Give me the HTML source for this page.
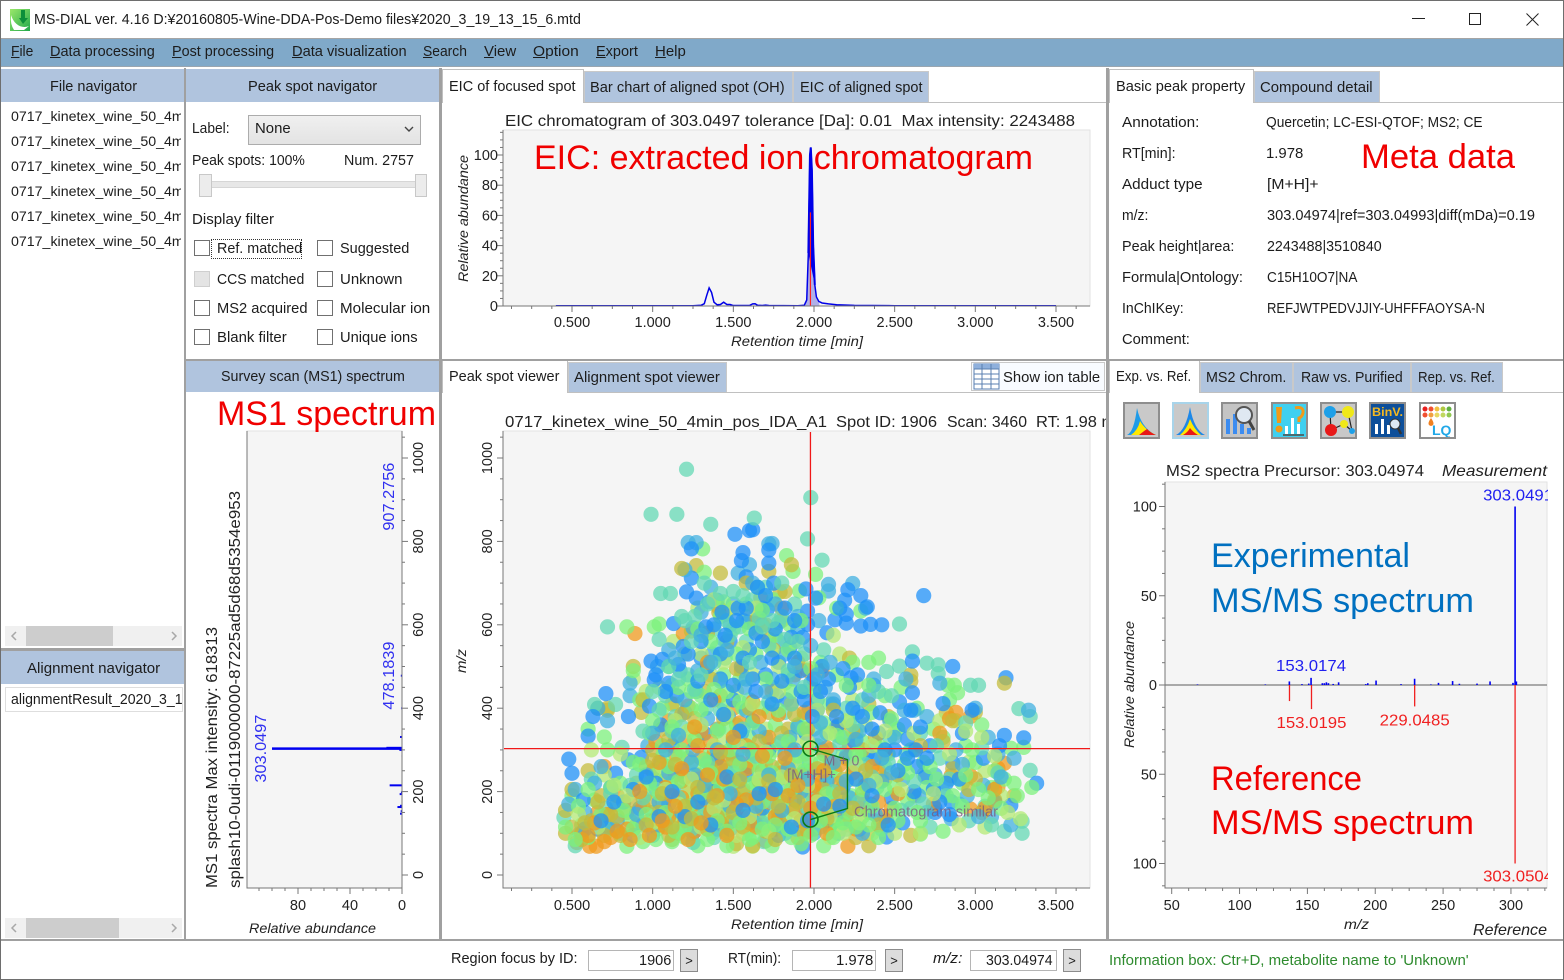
<!DOCTYPE html>
<html lang="en">
<head>
<meta charset="utf-8">
<title>MS-DIAL ver. 4.16</title>
<style>
html,body{margin:0;padding:0;background:#fff;}
#app{position:relative;width:1564px;height:980px;overflow:hidden;background:#fff;font-family:"Liberation Sans","Noto Sans CJK JP",sans-serif;font-size:14.5px;color:#1c1c1c;}
.b{position:absolute;box-sizing:border-box;}
.t{position:absolute;white-space:nowrap;line-height:20px;height:20px;margin-top:1px;transform-origin:left center;}
.sp{position:absolute;background:#a0a0a0;}
.hdr{position:absolute;background:#b0c4de;}
.tab{position:absolute;box-sizing:border-box;background:#b0c4de;border:1px solid #c9c9c9;border-bottom:none;}
.tab.on{background:#fff;border-color:#c0c0c0;}
.cb{position:absolute;box-sizing:border-box;width:16px;height:16px;border:1px solid #707070;background:#fff;}
.inp{position:absolute;box-sizing:border-box;border:1px solid #b5b5b5;background:#fff;height:21px;}
.btn{position:absolute;box-sizing:border-box;border:1px solid #8c8c8c;background:#dcdcdc;width:18px;height:23px;font-size:13px;line-height:22px;text-align:center;}
.ico{position:absolute;box-sizing:border-box;width:37px;height:37px;border:2px solid #8e8e8e;overflow:hidden;}
.ico svg{display:block;width:33px;height:33px;}
.sb{position:absolute;background:#f0f0f0;height:20px;}
.th{position:absolute;background:#cdcdcd;height:20px;top:0;}
#chart{position:absolute;left:0;top:0;width:1564px;height:980px;}
#file-list .t{font-size:14.2px;}
</style>
</head>
<body>
<div id="app">

<div class="b" style="left:0;top:0;width:1564px;height:980px;border:1px solid #6e6e6e;z-index:9;pointer-events:none"></div>

<svg class="b" style="left:10px;top:9px;width:20px;height:22px" viewBox="0 0 20 22">
<defs><linearGradient id="ag" x1="0" y1="0" x2="1" y2="1"><stop offset="0" stop-color="#9be86a"/><stop offset="1" stop-color="#1fa84a"/></linearGradient></defs>
<rect width="20" height="22" fill="url(#ag)"/><path d="M1 6 C4 16 12 20 19 17 L14 21 L4 21 Q0 15 1 6Z" fill="#fff"/><path d="M11 1 L15 1 L15 9 L18 9 L13 15 L9 9 L11 9Z" fill="#0c8f3a"/>
</svg>
<span class="t" style="left:34px;top:9px" data-w="547">MS-DIAL ver. 4.16 D:¥20160805-Wine-DDA-Pos-Demo files¥2020_3_19_13_15_6.mtd</span>
<div class="b" style="left:1412px;top:18px;width:13px;height:1px;background:#222"></div>
<div class="b" style="left:1469px;top:13px;width:12px;height:12px;border:1px solid #222"></div>
<svg class="b" style="left:1526px;top:13px;width:13px;height:13px" viewBox="0 0 13 13"><path d="M0.5 0.5L12.5 12.5M12.5 0.5L0.5 12.5" stroke="#222" stroke-width="1"/></svg>

<div class="b" style="left:1px;top:38px;width:1562px;height:29px;background:#80a9c9;border-top:1px solid #a5a5a5;border-bottom:1px solid #9aa6b0"></div>
<span class="t" style="left:11px;top:41px" data-w="22"><u>F</u>ile</span>
<span class="t" style="left:50px;top:41px" data-w="105"><u>D</u>ata processing</span>
<span class="t" style="left:172px;top:41px" data-w="102"><u>P</u>ost processing</span>
<span class="t" style="left:292px;top:41px" data-w="115"><u>D</u>ata visualization</span>
<span class="t" style="left:423px;top:41px" data-w="44"><u>S</u>earch</span>
<span class="t" style="left:484px;top:41px" data-w="32"><u>V</u>iew</span>
<span class="t" style="left:533px;top:41px" data-w="46"><u>O</u>ption</span>
<span class="t" style="left:596px;top:41px" data-w="42"><u>E</u>xport</span>
<span class="t" style="left:655px;top:41px" data-w="31"><u>H</u>elp</span>

<!-- splitters -->
<div class="sp" style="left:184px;top:68px;width:2px;height:872px"></div>
<div class="sp" style="left:439px;top:68px;width:3px;height:872px"></div>
<div class="sp" style="left:1106px;top:68px;width:3px;height:872px"></div>
<div class="sp" style="left:185px;top:359px;width:1379px;height:2px"></div>
<div class="sp" style="left:0;top:648px;width:185px;height:3px"></div>
<div class="sp" style="left:0;top:939px;width:1564px;height:2px"></div>

<!-- file navigator -->
<div class="hdr" style="left:1px;top:69px;width:183px;height:33px"></div>
<span class="t" style="left:50px;top:76px" data-w="87">File navigator</span>
<div id="file-list" class="b" style="left:1px;top:104px;width:180px;height:150px;overflow:hidden">
<span class="t" style="left:10px;top:2px">0717_kinetex_wine_50_4min_pos_IDA_A1</span>
<span class="t" style="left:10px;top:27px">0717_kinetex_wine_50_4min_pos_IDA_A2</span>
<span class="t" style="left:10px;top:52px">0717_kinetex_wine_50_4min_pos_IDA_A3</span>
<span class="t" style="left:10px;top:77px">0717_kinetex_wine_50_4min_pos_IDA_B1</span>
<span class="t" style="left:10px;top:102px">0717_kinetex_wine_50_4min_pos_IDA_B2</span>
<span class="t" style="left:10px;top:127px">0717_kinetex_wine_50_4min_pos_IDA_B3</span>
</div>
<div class="sb" style="left:5px;top:626px;width:177px"><div class="th" style="left:21px;width:87px"></div>
<svg style="position:absolute;left:5px;top:5px" width="168" height="10"><path d="M6 1L2 5L6 9M162 1L166 5L162 9" fill="none" stroke="#a8a8a8" stroke-width="1.5"/></svg></div>

<div class="hdr" style="left:1px;top:651px;width:183px;height:33px"></div>
<span class="t" style="left:27px;top:658px" data-w="133">Alignment navigator</span>
<div class="b" style="left:5px;top:687px;width:178px;height:25px;border:1px solid #dedede;overflow:hidden">
<span class="t" style="left:5px;top:1px" data-w="172">alignmentResult_2020_3_1</span></div>
<div class="sb" style="left:5px;top:918px;width:177px"><div class="th" style="left:21px;width:93px"></div>
<svg style="position:absolute;left:5px;top:5px" width="168" height="10"><path d="M6 1L2 5L6 9M162 1L166 5L162 9" fill="none" stroke="#a8a8a8" stroke-width="1.5"/></svg></div>

<!-- peak spot navigator -->
<div class="hdr" style="left:186px;top:69px;width:253px;height:33px"></div>
<span class="t" style="left:248px;top:76px" data-w="129">Peak spot navigator</span>
<span class="t" style="left:192px;top:118px" data-w="38">Label:</span>
<div class="b" style="left:248px;top:115px;width:173px;height:30px;border:1px solid #acacac;background:linear-gradient(#f0f0f0,#e3e3e3)"></div>
<span class="t" style="left:255px;top:118px" data-w="36">None</span>
<svg class="b" style="left:404px;top:126px;width:10px;height:7px" viewBox="0 0 10 7"><path d="M1 1L5 5L9 1" fill="none" stroke="#444" stroke-width="1.4"/></svg>
<span class="t" style="left:192px;top:150px" data-w="113">Peak spots: 100%</span>
<span class="t" style="left:344px;top:150px" data-w="70">Num. 2757</span>
<div class="b" style="left:205px;top:181px;width:218px;height:7px;background:#e7e7e7;border:1px solid #d6d6d6"></div>
<div class="b" style="left:199px;top:174px;width:13px;height:23px;background:#ececec;border:1px solid #c8c8c8"></div>
<div class="b" style="left:415px;top:174px;width:12px;height:23px;background:#ececec;border:1px solid #c8c8c8"></div>
<span class="t" style="left:192px;top:209px" data-w="82">Display filter</span>

<div class="cb" style="left:194px;top:240px"></div>
<div class="b" style="left:211px;top:239px;width:91px;height:20px;border:1px dotted #333"></div>
<span class="t" style="left:217px;top:238px" data-w="85">Ref. matched</span>
<div class="cb" style="left:194px;top:271px;background:#e4e4e4;border-color:#cfcfcf"></div>
<span class="t" style="left:217px;top:269px" data-w="87">CCS matched</span>
<div class="cb" style="left:194px;top:300px"></div>
<span class="t" style="left:217px;top:298px" data-w="90">MS2 acquired</span>
<div class="cb" style="left:194px;top:329px"></div>
<span class="t" style="left:217px;top:327px" data-w="70">Blank filter</span>
<div class="cb" style="left:317px;top:240px"></div>
<span class="t" style="left:340px;top:238px" data-w="69">Suggested</span>
<div class="cb" style="left:317px;top:271px"></div>
<span class="t" style="left:340px;top:269px" data-w="62">Unknown</span>
<div class="cb" style="left:317px;top:300px"></div>
<span class="t" style="left:340px;top:298px" data-w="90">Molecular ion</span>
<div class="cb" style="left:317px;top:329px"></div>
<span class="t" style="left:340px;top:327px" data-w="78">Unique ions</span>

<!-- top center tabs -->
<div class="b" style="left:442px;top:102px;width:664px;height:1px;background:#c0c0c0"></div>
<div class="tab on" style="left:442px;top:69px;width:142px;height:34px"></div>
<span class="t" style="left:449px;top:76px" data-w="127">EIC of focused spot</span>
<div class="tab" style="left:584px;top:71px;width:209px;height:31px"></div>
<span class="t" style="left:590px;top:77px" data-w="195">Bar chart of aligned spot (OH)</span>
<div class="tab" style="left:793px;top:71px;width:136px;height:31px"></div>
<span class="t" style="left:800px;top:77px" data-w="123">EIC of aligned spot</span>

<!-- property panel -->
<div class="b" style="left:1109px;top:102px;width:455px;height:1px;background:#c0c0c0"></div>
<div class="tab on" style="left:1109px;top:69px;width:145px;height:34px"></div>
<span class="t" style="left:1116px;top:76px" data-w="129">Basic peak property</span>
<div class="tab" style="left:1254px;top:71px;width:126px;height:31px"></div>
<span class="t" style="left:1260px;top:77px" data-w="113">Compound detail</span>

<span class="t" style="left:1122px;top:112px" data-w="77">Annotation:</span>
<span class="t" style="left:1266px;top:112px" data-w="217">Quercetin; LC-ESI-QTOF; MS2; CE</span>
<span class="t" style="left:1122px;top:143px" data-w="54">RT[min]:</span>
<span class="t" style="left:1266px;top:143px" data-w="37">1.978</span>
<span class="t" style="left:1122px;top:174px" data-w="81">Adduct type</span>
<span class="t" style="left:1267px;top:174px" data-w="52">[M+H]+</span>
<span class="t" style="left:1122px;top:205px" data-w="26">m/z:</span>
<span class="t" style="left:1267px;top:205px" data-w="268">303.04974|ref=303.04993|diff(mDa)=0.19</span>
<span class="t" style="left:1122px;top:236px" data-w="112">Peak height|area:</span>
<span class="t" style="left:1267px;top:236px" data-w="115">2243488|3510840</span>
<span class="t" style="left:1122px;top:267px" data-w="121">Formula|Ontology:</span>
<span class="t" style="left:1267px;top:267px" data-w="90">C15H10O7|NA</span>
<span class="t" style="left:1122px;top:298px" data-w="62">InChIKey:</span>
<span class="t" style="left:1267px;top:298px" data-w="218">REFJWTPEDVJJIY-UHFFFAOYSA-N</span>
<span class="t" style="left:1122px;top:329px" data-w="68">Comment:</span>

<!-- MS1 header -->
<div class="hdr" style="left:186px;top:361px;width:253px;height:31px"></div>
<span class="t" style="left:221px;top:366px" data-w="184">Survey scan (MS1) spectrum</span>

<!-- viewer tabs -->
<div class="b" style="left:442px;top:392px;width:664px;height:1px;background:#c0c0c0"></div>
<div class="tab on" style="left:442px;top:361px;width:126px;height:32px;border-top:none"></div>
<span class="t" style="left:449px;top:366px" data-w="110">Peak spot viewer</span>
<div class="tab" style="left:568px;top:362px;width:159px;height:30px"></div>
<span class="t" style="left:574px;top:367px" data-w="146">Alignment spot viewer</span>
<div class="b" style="left:971px;top:362px;width:134px;height:29px;border:1px solid #c8c8c8;background:#f8fbff"></div>
<svg class="b" style="left:973px;top:363px;width:27px;height:27px" viewBox="0 0 27 27"><rect x="1" y="1" width="25" height="25" fill="#fff" stroke="#5a7fb0"/><rect x="1" y="1" width="25" height="5" fill="#8fb0dc"/><path d="M1 6H26M1 11H26M1 16H26M1 21H26M9 1V26M18 1V26" stroke="#5a7fb0" fill="none"/></svg>
<span class="t" style="left:1003px;top:367px" data-w="97">Show ion table</span>

<!-- ms2 tabs -->
<div class="b" style="left:1109px;top:392px;width:455px;height:1px;background:#c0c0c0"></div>
<div class="tab on" style="left:1109px;top:361px;width:91px;height:32px;border-top:none"></div>
<span class="t" style="left:1116px;top:366px" data-w="75">Exp. vs. Ref.</span>
<div class="tab" style="left:1200px;top:362px;width:93px;height:30px"></div>
<span class="t" style="left:1206px;top:367px" data-w="80">MS2 Chrom.</span>
<div class="tab" style="left:1293px;top:362px;width:118px;height:30px"></div>
<span class="t" style="left:1301px;top:367px" data-w="102">Raw vs. Purified</span>
<div class="tab" style="left:1411px;top:362px;width:92px;height:30px"></div>
<span class="t" style="left:1418px;top:367px" data-w="77">Rep. vs. Ref.</span>

<!-- toolbar icons -->
<div class="ico" style="left:1123px;top:402px"><svg viewBox="0 0 33 33"><rect width="33" height="33" fill="#c9c9c9"/><path d="M2 31 Q9 28 12 4 Q16 24 31 31Z" fill="#1e9be8"/><path d="M6 31 Q13 26 15 17 Q20 26 31 31Z" fill="#ffe800"/><path d="M14 31 Q19 27 22 25 Q26 29 31 31Z" fill="#e81818"/></svg></div>
<div class="ico" style="left:1172px;top:402px;border-color:#a8d4ea"><svg viewBox="0 0 33 33"><rect width="33" height="33" fill="#c9c9c9"/><path d="M2 31 Q12 26 16 3 Q20 26 31 31Z" fill="#1e88e8"/><path d="M6 31 Q13 25 16 15 Q20 25 27 31Z" fill="#ffe800"/><path d="M9 31 Q14 28 16 24 Q19 28 24 31Z" fill="#e81818"/></svg></div>
<div class="ico" style="left:1221px;top:402px"><svg viewBox="0 0 33 33"><rect width="33" height="33" fill="#c4c4c4"/><path d="M3 30V15H7V30ZM10 30V10H14V30ZM17 30V20H21V30ZM24 30V24H28V30Z" fill="#3c8cf0"/><circle cx="21" cy="11" r="8" fill="#dfe8f2" stroke="#555" stroke-width="2"/><path d="M26 17L31 26" stroke="#444" stroke-width="3"/></svg></div>
<div class="ico" style="left:1271px;top:402px"><svg viewBox="0 0 33 33"><rect width="33" height="33" fill="#3fd0f0"/><path d="M3 3H9L8 19H4Z" fill="#f29a18"/><circle cx="6" cy="25" r="3.5" fill="#f29a18"/><path d="M22 4Q31 2 30 9Q29 13 26 14L26 18" fill="none" stroke="#f29a18" stroke-width="3"/><path d="M12 30V22H15V30ZM18 30V14H21V30ZM24 30V20H27V30Z" fill="#fff"/><path d="M10 31H31" stroke="#4a6a70" stroke-width="2"/></svg></div>
<div class="ico" style="left:1320px;top:402px"><svg viewBox="0 0 33 33"><rect width="33" height="33" fill="#c8c8c8"/><path d="M8 8L26 8L30 27M8 8L9 26L22 20L30 27" stroke="#222" stroke-width="1.2" fill="none"/><circle cx="8" cy="8" r="6" fill="#1ea0e8"/><circle cx="26" cy="8" r="6" fill="#f0e818"/><circle cx="9" cy="26" r="6" fill="#e81818"/><circle cx="22" cy="20" r="4" fill="#f0e818"/><circle cx="30" cy="27" r="3" fill="#1ea0e8"/></svg></div>
<div class="ico" style="left:1369px;top:402px;background:#0d4f9a"><svg viewBox="0 0 33 33"><rect width="33" height="33" fill="#0d4f9a"/><text x="1" y="12" font-family="'Liberation Sans',sans-serif" font-size="11.5" font-weight="bold" fill="#f4b820" textLength="31" lengthAdjust="spacingAndGlyphs">BinV.</text><path d="M4 30V20H7V30ZM10 30V15H13V30ZM16 30V21H19V30Z" fill="#fff"/><circle cx="24" cy="20" r="5" fill="#dfe8f2" stroke="#333"/><path d="M27 24L30 30" stroke="#333" stroke-width="2.5"/></svg></div>
<div class="ico" style="left:1419px;top:402px;background:#fff"><svg viewBox="0 0 33 33"><rect width="33" height="33" fill="#fff"/><circle cx="4" cy="5" r="2.5" fill="#e82020"/><circle cx="10" cy="5" r="2.5" fill="#f05030"/><circle cx="16" cy="5" r="2.5" fill="#f0c040"/><circle cx="22" cy="5" r="2.5" fill="#b0c840"/><circle cx="28" cy="5" r="2.5" fill="#60b040"/><circle cx="4" cy="11" r="2.5" fill="#f05030"/><circle cx="10" cy="11" r="2.5" fill="#f0a040"/><circle cx="16" cy="11" r="2.5" fill="#e8d860"/><circle cx="22" cy="11" r="2.5" fill="#c0d860"/><circle cx="28" cy="11" r="2.5" fill="#90c850"/><path d="M10 14Q15 21 10 22Q5 21 10 14Z" fill="#f08020"/><text x="11" y="31" font-family="'Liberation Sans',sans-serif" font-size="14" font-weight="bold" fill="#20a8e8">LQ</text></svg></div>

<!-- status bar -->
<span class="t" style="left:451px;top:948px" data-w="127">Region focus by ID:</span>
<div class="inp" style="left:588px;top:950px;width:86px"></div>
<span class="t" style="left:639px;top:950px" data-w="32">1906</span>
<div class="btn" style="left:680px;top:949px">&gt;</div>
<span class="t" style="left:728px;top:948px" data-w="53">RT(min):</span>
<div class="inp" style="left:792px;top:950px;width:84px"></div>
<span class="t" style="left:836px;top:950px" data-w="37">1.978</span>
<div class="btn" style="left:885px;top:949px">&gt;</div>
<span class="t" style="left:933px;top:948px;font-style:italic" data-w="29">m/z:</span>
<div class="inp" style="left:970px;top:950px;width:87px"></div>
<span class="t" style="left:986px;top:950px" data-w="67">303.04974</span>
<div class="btn" style="left:1063px;top:949px">&gt;</div>
<span class="t" style="left:1109px;top:950px;color:#2e8b2e" data-w="360">Information box: Ctr+D, metabolite name to 'Unknown'</span>

<svg id="chart" viewBox="0 0 1564 980" font-family="'Liberation Sans',sans-serif">
<defs>
<clipPath id="clipScatter"><rect x="504" y="432" width="586" height="456"/></clipPath>
<clipPath id="clipViewer"><rect x="442" y="395" width="664" height="40"/></clipPath>
<clipPath id="clipMs2"><rect x="1165" y="482" width="383" height="406"/></clipPath>
</defs>
</svg>
</div>

<script>
/* ---------- EIC chart data ---------- */
const eicTicksX = [0.5, 1, 1.5, 2, 2.5, 3, 3.5];
const eicTickLabelsX = ["0.500", "1.000", "1.500", "2.000", "2.500", "3.000", "3.500"];
const eicTicksY = [0, 20, 40, 60, 80, 100];
const eicRt = [0.40,1.25,1.30,1.32,1.335,1.35,1.365,1.38,1.40,1.42,1.44,1.46,1.48,1.50,1.60,1.62,1.635,1.65,1.68,1.70,1.72,1.90,1.94,1.955,1.965,1.975,1.98,1.987,1.995,2.005,2.015,2.03,2.05,2.09,2.14,2.25,2.50,3.50];
const eicInt = [0.2,0.2,0.5,1.5,7,12,9,2.5,0.8,1,2.5,1,1,0.3,0.3,1.4,1.5,0.5,0.3,0.6,0.3,0.2,0.5,4,35,100,105,90,40,14,6,3,2,1.4,0.8,0.4,0.2,0.2];
const eicPeakRange = [1.945, 2.035];
const eicMarkerRt = [1.978];
const eicMarkerInt = [62];

/* ---------- MS1 spectrum data ---------- */
const ms1TicksX = [0, 40, 80];
const ms1TicksY = [0, 200, 400, 600, 800, 1000];
const ms1Mz = [69,98,133,147,153,163,166,194,198,215,250,285,300,303.05,305,331,400,478,500,610,690,907];
const ms1Int = [0.3,0.3,0.3,1.5,1,3.5,1.5,1.8,0.8,9.5,0.3,0.4,2,100,12,1.5,0.6,0.9,0.4,0.3,0.4,0.3];
const ms1PeakLabels = ["303.0497", "478.1839", "907.2756"];
const ms1PeakLabelMz = [303.05, 478.18, 907.28];
const ms1PeakLabelInt = [100, 0, 0];

/* ---------- Peak spot scatter data (one rt / one mz array per colour class) ---------- */
const scatterTicksX = [0.5, 1, 1.5, 2, 2.5, 3, 3.5];
const scatterTickLabelsX = ["0.500", "1.000", "1.500", "2.000", "2.500", "3.000", "3.500"];
const scatterTicksY = [0, 200, 400, 600, 800, 1000];
const scatterTitleParts = ["0717_kinetex_wine_50_4min_pos_IDA_A1", "Spot ID: 1906", "Scan: 3460", "RT: 1.98 min"];
const focusRt = [1.978];
const focusMz = [303.05];
const relatedMz = [133];

const blueRt = [
1.51,1.60,1.62,1.24,1.21,1.27,1.35,1.24,1.56,1.55,
1.72,1.72,1.58,2.68,2.29,2.21,2.33,2.19,2.20,2.13,
2.20,2.08,2.42,2.35,2.29,1.13,1.96,1.95,2.01,1.96,
1.59,1.66,1.71,2.86,3.19,2.37,2.61,2.61,2.23,0.71,
0.60,0.48,0.50,0.77,0.85,0.63,0.85,0.93,0.99,1.01,
1.06,1.19,3.38,3.22,2.85,2.69,3.30,3.18,2.86,2.80,
2.53,2.41,1.93,2.58,2.45,1.25,1.10,1.15,1.30,1.42,
1.48,1.55,1.60,1.70,1.78,1.85,1.92,2.05,2.12,2.22,
1.05,1.12,1.20,1.32,1.40,1.50,1.62,1.72,1.83,1.95,
2.02,2.14,2.25,2.33,2.40,2.50,2.56,2.64,2.72,2.82,
1.02,1.10,1.18,1.28,1.38,1.48,1.58,1.68,1.78,1.88,
1.98,2.08,2.18,2.28,2.38,2.48,2.55,2.62,2.75,3.05,
0.92,0.98,0.74,0.66,0.57,3.12,3.15,2.92,2.98,2.75,
1.43,1.53,1.65,1.75,1.88,1.93,2.00,2.16,2.27,1.33,
1.30,1.38,1.45,1.52,1.58,1.64,1.70,1.76,1.82,1.88,
1.34,1.42,1.50,1.56,1.62,1.68,1.74,1.80,1.86,1.92,
1.02,1.08,1.16,1.22,1.28,1.36,1.44,1.54,1.64,1.74,
1.94,1.99,2.04,2.09,2.14,2.18,2.24,2.30,2.36,2.44,
2.52,2.58,2.60,2.63,2.66,2.70,2.74,2.78,2.84,2.90,
0.88,0.96,1.04,1.12,1.20,1.28,1.36,1.46,1.56,1.66,
1.76,1.86,1.96,2.06,2.16,2.26,2.36,2.46,0.68,0.76];
const blueMz = [
817,826,828,782,679,664,655,712,773,754,
779,748,715,670,670,684,643,659,625,612,
604,581,600,601,597,603,633,686,664,601,
606,610,637,500,473,455,513,437,473,435,
333,278,244,244,380,380,276,282,513,468,
517,548,220,167,176,235,329,335,269,411,
415,389,67,326,91,100,460,430,520,470,
560,500,540,480,510,545,490,500,410,450,
360,310,390,340,280,420,370,300,420,340,
395,355,320,290,340,300,360,260,310,220,
220,170,250,130,200,110,240,160,95,180,
250,130,210,110,280,185,125,200,150,280,
160,405,210,110,180,175,310,340,395,160,
630,640,690,700,520,570,470,640,480,595,
560,600,575,610,640,580,670,590,640,610,
500,530,455,520,470,560,520,465,570,440,
480,440,505,530,465,420,385,345,440,410,
420,380,440,470,380,495,400,380,350,300,
250,280,395,300,355,280,205,175,145,230,
205,235,140,200,140,175,120,235,155,195,
205,115,130,170,165,230,190,120,130,175];

const cyanRt = [
1.22,1.27,1.72,1.74,1.60,1.53,1.20,1.40,2.24,2.09,
2.09,2.32,1.25,1.68,1.48,1.78,1.90,2.03,1.03,1.10,
0.86,0.86,0.66,0.72,0.97,1.17,1.27,1.37,1.47,1.57,
1.67,1.77,1.87,1.97,2.07,2.17,2.27,2.37,2.47,2.57,
2.62,2.70,2.78,2.88,3.00,3.08,3.14,3.33,3.24,3.05,
1.05,1.15,1.25,1.35,1.45,1.55,1.65,1.75,1.85,1.95,
2.05,2.15,2.25,2.35,2.45,2.55,2.65,2.75,2.85,2.95,
0.52,0.58,0.68,0.78,0.88,0.48,0.94,1.00,3.10,3.22,
1.30,1.36,1.44,1.50,1.56,1.62,1.68,1.76,1.82,1.90,
1.12,1.20,1.28,1.34,1.42,1.50,1.58,1.66,1.74,1.82,
1.90,1.98,2.04,2.12,2.20,2.28,2.34,2.42,2.50,2.56,
0.96,1.04,1.10,1.18,1.26,1.32,1.40,1.48,1.54,1.62,
1.70,1.78,1.84,1.92,2.00,2.08,2.14,2.22,2.30,2.38,
0.58,0.64,0.72,0.82,0.90,2.70,2.80,2.92,3.02,3.16,
1.00,1.08,1.16,1.24,1.32,1.40,1.48,1.56,1.64,1.72,
1.80,1.88,1.96,2.04,2.12,2.20,2.26,2.34,2.42,2.48,
1.36,1.30,1.46,1.58,1.70,1.88,1.98,2.02,2.10,1.14];
const cyanMz = [
797,797,794,795,744,724,732,659,699,697,
681,640,593,640,600,560,590,610,500,540,
460,430,400,370,310,490,440,530,380,450,
510,430,470,400,450,330,390,470,370,470,
395,380,460,300,400,330,290,395,280,215,
270,200,300,150,250,340,120,230,330,150,
300,100,260,170,130,230,190,240,135,190,
205,150,260,130,95,170,120,95,140,120,
630,690,565,650,610,700,600,650,530,620,
455,420,490,375,465,320,395,345,470,290,
355,460,330,420,285,345,430,225,330,395,
240,175,245,150,240,185,110,165,225,130,
195,120,255,200,100,225,145,185,100,145,
110,220,115,175,145,150,200,265,140,235,
340,300,335,270,215,300,195,290,165,240,
155,300,230,365,270,225,325,215,280,245,
510,575,540,470,440,500,550,480,510,520];

const tealRt = [
1.21,1.98,0.99,1.15,1.63,1.36,1.96,2.05,1.05,1.11,
2.53,0.72,2.61,2.70,2.77,2.77,2.97,3.02,2.45,2.53,
3.27,3.34,3.34,3.29,3.29,3.18,0.77,0.64,0.81,0.45,
1.18,1.38,1.46,1.62,1.70,1.80,1.88,1.45,1.58,2.06,
1.08,1.14,1.22,1.33,1.41,1.52,1.60,1.70,1.82,1.90,
2.00,2.10,2.20,2.30,2.38,2.48,2.57,2.66,2.78,2.90,
1.00,1.09,1.19,1.29,1.39,1.49,1.59,1.69,1.79,1.89,
1.99,2.09,2.19,2.29,2.39,2.47,2.60,2.72,2.84,2.96,
0.55,0.62,0.71,0.80,0.90,1.25,3.06,3.14,2.42,0.52,
1.26,1.34,1.40,1.48,1.54,1.66,1.72,1.78,1.84,1.94,
1.04,1.12,1.18,1.26,1.34,1.42,1.50,1.56,1.64,1.72,
1.80,1.86,1.94,2.02,2.08,2.16,2.24,2.32,2.40,2.46,
0.94,1.02,1.08,1.16,1.24,1.32,1.38,1.46,1.52,1.60,
1.68,1.74,1.82,1.88,1.96,2.04,2.12,2.20,2.28,2.36,
2.54,2.62,2.68,2.76,2.82,2.94,3.04,3.10,0.74,0.86,
1.10,1.16,1.24,1.30,1.38,1.50,1.60,1.74,1.82,1.90,
1.04,1.00,0.94,1.20,1.32,1.42,1.56,1.68,1.80,1.94];
const tealMz = [
973,905,865,865,856,841,806,755,675,675,
602,595,535,508,504,483,455,455,488,501,
399,380,251,129,100,105,409,409,306,138,
620,590,610,660,690,620,650,520,560,540,
430,380,480,400,350,290,420,330,390,260,
350,300,400,420,310,430,290,340,280,170,
150,260,110,230,170,290,140,80,210,110,
190,230,150,280,210,330,160,115,230,130,
100,230,160,100,240,78,165,245,110,70,
620,650,545,575,595,615,550,605,490,530,
395,345,355,445,270,395,245,350,285,415,
320,410,270,420,245,315,360,265,440,270,
185,205,125,185,110,145,90,195,130,180,
125,175,100,230,160,115,200,110,175,235,
155,225,170,310,190,365,305,120,195,215,
500,470,560,480,510,680,510,610,565,560,
565,440,345,610,700,675,670,595,700,450];

const greenRt = [
1.31,1.83,2.01,1.87,0.84,1.01,1.04,1.32,1.91,2.29,
2.83,2.87,2.89,0.60,0.70,3.22,3.30,2.66,0.84,1.65,
1.42,1.50,1.58,1.75,1.85,2.03,2.14,2.40,1.10,1.22,
1.34,1.44,1.54,1.64,1.74,1.84,1.94,2.04,2.14,2.24,
2.34,2.44,2.54,2.64,2.74,2.84,2.94,3.04,3.12,0.88,
0.92,0.98,1.06,1.14,1.24,1.30,1.36,1.44,1.52,1.60,
1.68,1.76,1.86,1.94,2.02,2.10,2.18,2.26,2.36,2.44,
2.52,2.60,2.70,2.80,2.92,3.00,3.10,3.18,3.26,3.35,
0.50,0.56,0.64,0.72,0.80,0.88,0.95,1.03,1.11,1.17,
1.23,1.31,1.37,1.43,1.47,1.56,1.63,1.72,1.80,1.86,
1.92,1.97,2.07,2.13,2.23,2.32,2.41,2.46,2.58,2.68,
0.60,0.70,0.78,0.86,0.94,1.02,1.12,1.20,1.28,1.34,
1.46,1.50,1.62,1.66,1.74,1.82,1.90,2.06,2.16,2.30,
1.06,1.16,1.26,1.40,1.50,1.64,1.78,1.90,2.08,2.22,
1.24,1.34,1.46,1.56,1.70,1.80,1.96,2.12,2.30,2.50,
1.28,1.36,1.44,1.52,1.60,1.68,1.76,1.84,1.92,1.98,
1.16,1.24,1.30,1.38,1.46,1.54,1.62,1.70,1.78,1.86,
1.94,2.00,2.06,2.14,2.20,2.28,2.34,2.42,2.48,2.56,
1.00,1.06,1.12,1.18,1.26,1.32,1.40,1.48,1.54,1.60,
1.66,1.72,1.78,1.84,1.90,1.98,2.04,2.10,2.18,2.26,
0.92,0.98,1.04,1.10,1.16,1.22,1.30,1.36,1.42,1.50,
1.56,1.62,1.68,1.74,1.80,1.86,1.94,2.00,2.08,2.14,
2.22,2.30,2.36,2.44,2.52,2.58,2.64,2.72,2.80,2.86,
0.46,0.54,0.60,0.68,0.74,0.82,0.88,0.96,1.02,1.08,
1.14,1.20,1.26,1.34,1.40,1.46,1.54,1.60,1.68,1.76,
1.84,1.92,1.98,2.04,2.12,2.18,2.26,2.34,2.40,2.50,
2.94,3.02,3.08,3.16,3.24,2.98,2.92,2.76,2.66,0.52];
const greenMz = [
782,766,721,728,595,595,602,726,681,633,
455,455,437,350,331,304,306,98,69,690,
620,590,650,660,600,665,640,520,500,470,
500,480,470,530,450,480,440,510,480,510,
510,430,450,400,350,420,310,360,250,490,
420,340,400,330,350,430,300,410,360,330,
400,360,300,380,310,410,290,340,390,260,
350,300,210,330,220,270,210,230,190,210,
190,120,180,300,220,270,190,110,220,140,
180,220,100,260,150,200,270,140,260,90,
210,120,170,250,190,230,130,290,180,270,
90,120,170,130,80,240,80,90,70,120,
70,260,90,170,70,140,240,70,110,140,
310,285,265,225,325,220,315,360,340,370,
400,260,440,400,270,190,300,200,320,210,
590,560,655,530,590,635,575,540,610,495,
450,440,395,445,355,415,365,470,395,440,
350,445,365,335,455,290,455,305,375,265,
370,285,355,300,325,275,345,300,265,300,
250,285,230,320,285,270,270,250,330,290,
265,220,195,260,225,165,195,245,210,225,
170,220,175,245,175,205,250,150,195,120,
150,205,165,205,130,245,150,260,105,190,
115,165,205,145,210,155,110,145,85,150,
105,115,135,85,130,105,125,85,110,120,
110,75,95,130,90,125,115,120,90,160,
240,205,185,160,220,300,165,230,130,85];

const oliveRt = [
1.27,1.42,1.86,1.72,1.79,1.67,1.66,1.80,1.41,1.45,
1.24,1.18,0.72,0.72,0.93,0.88,0.66,1.55,1.75,2.22,
2.60,2.60,1.32,1.06,1.12,1.42,1.52,1.62,1.72,1.84,
1.94,2.04,2.16,2.34,2.46,2.62,2.82,3.00,3.18,3.24,
1.00,1.08,1.16,1.22,1.30,1.38,1.46,1.54,1.60,1.68,
1.76,1.84,1.92,2.00,2.10,2.20,2.26,2.34,2.44,2.62,
0.46,0.50,0.60,0.68,0.76,0.84,0.90,0.96,1.04,2.86,
0.46,0.94,1.12,1.52,1.62,2.34,2.60,2.96,3.04,2.80,
1.34,1.46,1.58,1.64,1.72,1.82,1.90,1.36,1.52,1.70,
1.10,1.18,1.26,1.36,1.44,1.50,1.60,1.66,1.74,1.80,
1.88,1.96,2.06,2.12,2.18,2.24,2.30,2.38,2.44,2.52,
0.98,1.04,1.10,1.18,1.26,1.34,1.40,1.48,1.56,1.64,
1.70,1.78,1.86,1.92,2.00,2.06,2.14,2.22,2.30,2.40,
0.50,0.56,0.62,0.70,0.78,0.86,2.66,2.86,3.00,3.12,
1.00,1.06,1.14,1.20,1.28,1.34,1.42,1.50,1.56,1.64,
1.72,1.78,1.86,1.94,2.02,2.08,2.16,2.24,2.32,0.96,
0.80,0.74,0.66,0.58,1.12,1.24,1.38,1.54,1.76,1.90];
const oliveMz = [
742,724,744,728,679,665,630,610,630,625,
585,735,400,395,390,500,400,490,540,520,
480,465,440,350,410,430,340,300,390,350,
290,240,360,410,380,300,390,390,460,190,
300,230,130,280,170,240,100,180,260,120,
200,270,130,200,110,280,90,150,230,190,
155,205,250,190,110,150,220,260,120,255,
100,420,85,75,70,70,95,205,150,320,
580,560,700,610,565,680,510,470,495,600,
325,385,375,255,375,275,400,320,260,340,
385,350,290,395,230,345,300,330,290,240,
175,150,95,225,170,200,140,125,205,160,
105,135,160,240,130,205,160,120,195,120,
115,85,130,95,140,180,310,370,230,180,
275,195,265,165,210,110,295,150,115,185,
225,165,240,100,255,135,195,160,250,120,
95,145,175,125,115,135,185,230,85,175];

const limeRt = [
1.50,1.62,1.28,1.13,0.88,1.58,1.66,1.92,2.16,2.26,
0.96,1.04,1.14,1.20,1.28,1.36,1.44,1.52,1.62,1.70,
1.82,1.90,2.02,2.12,2.24,2.32,2.42,2.50,2.68,2.78,
2.88,2.96,3.06,3.16,0.62,0.70,0.80,0.90,0.98,1.06,
1.14,1.22,1.32,1.40,1.48,1.58,1.68,1.76,1.86,1.94,
2.04,2.14,2.24,2.36,2.50,2.66,3.28,3.06,2.90,2.10,
1.38,1.50,1.64,1.74,1.88,1.30,1.44,1.56,1.78,2.12,
1.06,1.14,1.22,1.30,1.38,1.46,1.54,1.62,1.70,1.78,
1.88,1.96,2.02,2.10,2.20,2.26,2.36,2.44,2.54,2.62,
0.92,1.00,1.08,1.16,1.24,1.30,1.38,1.44,1.52,1.60,
1.66,1.72,1.80,1.88,1.96,2.02,2.10,2.18,2.28,2.38,
0.54,0.66,0.76,0.84,2.74,2.84,2.94,3.04,3.20,3.12];
const limeMz = [
69,69,640,560,470,620,580,520,530,460,
440,450,410,530,320,480,320,440,480,350,
460,330,420,260,420,360,230,340,240,370,
370,270,250,190,300,240,290,150,210,180,
120,200,150,200,240,100,210,300,210,170,
140,180,230,100,100,100,135,115,120,90,
660,640,640,540,560,530,510,545,500,575,
260,370,345,360,310,385,310,410,295,440,
270,320,395,340,370,265,310,345,205,340,
90,125,205,170,230,115,160,180,95,140,
230,105,235,135,215,175,140,100,125,225,
145,115,215,190,195,290,345,330,150,285];

const orangeRt = [
0.89,1.41,3.18,3.14,2.33,2.21,1.19,0.61,0.65,0.53,
0.70,2.97,2.85,2.97,2.97,3.14,1.70,1.80,2.15,2.05,
1.96,1.88,1.74,1.62,1.50,1.40,1.30,1.20,1.10,1.00,
1.06,1.14,1.24,1.34,1.44,1.54,1.64,1.76,1.84,1.94,
2.04,2.12,2.22,2.30,2.40,2.48,2.78,2.88,0.78,0.66,
0.90,0.98,1.16,1.26,1.36,1.46,1.56,1.66,1.78,1.90,
2.00,2.10,2.18,2.28,1.28,1.38,1.48,1.58,1.68,1.86,
1.22,1.30,1.38,1.46,1.54,1.62,1.70,1.78,1.86,1.94,
1.02,1.08,1.14,1.20,1.28,1.36,1.42,1.50,1.58,1.66,
1.72,1.80,1.88,1.96,2.02,2.08,2.16,2.24,2.32,2.40,
0.94,1.02,1.10,1.18,1.26,1.34,1.42,1.48,1.56,1.64,
1.72,1.80,1.88,1.96,2.04,2.12,2.20,2.26,0.56,0.72,
2.36,2.44,2.52,2.74,2.84,3.06,3.12,0.74,0.84,1.34,
1.04,1.12,1.20,1.28,1.36,1.44,1.52,1.60,1.68,1.76,
1.84,1.92,2.00,2.08,2.16,1.08,1.18,1.26,1.34,1.40,
1.50,1.58,1.66,1.74,1.82,1.90,1.98,2.06,0.60,0.64,
0.70,0.78,0.86,0.92,0.98,1.06,1.14,1.22,1.30,1.46];
const orangeMz = [
579,641,268,256,100,69,579,69,69,78,
260,380,238,238,158,211,82,640,360,490,
490,480,440,290,400,350,280,320,370,250,
160,240,210,110,160,270,190,110,230,180,
220,130,310,180,250,160,340,390,190,150,
120,130,100,140,220,130,100,150,150,90,
110,270,180,160,240,290,210,310,250,300,
405,345,420,290,365,415,290,385,410,390,
320,210,290,235,195,320,260,190,255,225,
330,245,200,230,180,305,220,245,215,175,
165,135,140,185,105,175,125,225,140,115,
175,120,155,105,150,165,135,110,100,145,
260,140,195,170,375,160,205,90,110,510,
270,190,130,310,150,230,170,125,285,140,
190,130,215,100,265,115,255,355,240,190,
330,180,380,195,280,215,160,250,95,125,
80,105,85,200,95,130,165,85,125,95];

/* ---------- MS2 chart data ---------- */
const ms2TicksX = [50, 100, 150, 200, 250, 300];
const ms2TicksY = [100, 50, 0, -50, -100];
const ms2TickLabelsY = ["100", "50", "0", "50", "100"];
const expMz = [69,119,136.7,146,151,152.7,161,162.5,164,165.5,169,173,193,194.5,200.6,219,229,241,246.6,257,262,275,284.6,301.5,303.05,304];
const expInt = [0.3,0.3,2,0.5,0.8,4,1,1,1.5,1,0.6,1.5,0.5,1,2.5,0.5,3.5,0.3,1.2,2.2,0.7,0.8,2,1.2,100,2];
const refMz = [136.8,153.02,229.05,303.05];
const refInt = [9,13.5,12,100];
const expLabels = ["153.0174", "303.0491"];
const expLabelMz = [152.7, 303.05];
const expLabelInt = [4, 100];
const refLabels = ["153.0195", "229.0485", "303.0504"];
const refLabelMz = [153.02, 229.05, 303.05];
const refLabelInt = [13.5, 12, 100];

/* ---------- helpers ---------- */
const NS = "http://www.w3.org/2000/svg";
const root = document.getElementById("chart");
function mk(tag, attrs, parent) {
  const el = document.createElementNS(NS, tag);
  for (const k in attrs) el.setAttribute(k, attrs[k]);
  parent.appendChild(el);
  return el;
}
function group(parent) { return mk("g", {}, parent); }
function txt(parent, str, x, y, opts) {
  const o = opts || {};
  const a = { x: x, y: y, "font-size": o.size || 14.5, fill: o.fill || "#222" };
  if (o.anchor) a["text-anchor"] = o.anchor;
  if (o.italic) a["font-style"] = "italic";
  if (o.len) { a.textLength = o.len; a.lengthAdjust = "spacingAndGlyphs"; }
  if (o.rot) a.transform = "rotate(-90 " + x + " " + y + ")";
  if (o.clip) a["clip-path"] = "url(#" + o.clip + ")";
  if (o.opacity) a.opacity = o.opacity;
  if (o.pre) a.style = "white-space:pre";
  const el = mk("text", a, parent);
  el.textContent = str;
  return el;
}
function range(a, b, step) { const r = []; for (let v = a; v <= b + 1e-9; v += step) r.push(v); return r; }

/* ---------- shared retention-time axis ---------- */
function rtX(rt) { return 572 + (rt - 0.5) * 161.33; }

/* ---------- EIC chart ---------- */
(function drawEic() {
  const g = group(root);
  
  
  const y = v => 306 - v * 1.51;
  const bg = mk("rect", { x: 503, y: 130, width: 587, height: 176, fill: "#f5f5f5", stroke: "#e2e2e2" }, g);
  
  
  const t = txt(g, "EIC chromatogram of 303.0497 tolerance [Da]: 0.01  Max intensity: 2243488", 505, 126, { size: 16, len: 570, pre: true });
  
  
  const pk = [];
  eicRt.forEach((r, i) => { if (r >= eicPeakRange[0] && r <= eicPeakRange[1]) pk.push([rtX(r), y(eicInt[i])]); });
  const fill = mk("polygon", { points: rtX(eicPeakRange[0]) + "," + y(0) + " " + pk.map(p => p.join(",")).join(" ") + " " + rtX(eicPeakRange[1]) + "," + y(0), fill: "#b0b0e8" }, g);
  
  
  const line = mk("polyline", { points: eicRt.map((r, i) => rtX(r) + "," + y(eicInt[i])).join(" "), fill: "none", stroke: "#0000e8", "stroke-width": 1.5 }, g);
  
  
  const thick = mk("polyline", { points: pk.filter(p => p[1] < y(12)).map(p => p.join(",")).join(" "), fill: "#0000e8", stroke: "#0000e8", "stroke-width": 2 }, g);
  
  
  const red = mk("line", { x1: rtX(eicMarkerRt[0]), x2: rtX(eicMarkerRt[0]), y1: y(0), y2: y(eicMarkerInt[0]), stroke: "#ff2020", "stroke-width": 1.2 }, g);
  
  
  const ax = mk("path", { d: "M497 306H1090M503 130V306", stroke: "#777", fill: "none" }, g);
  
  
  range(0.125, 3.625, 0.125).forEach(v => {
    const major = Math.abs(v * 2 - Math.round(v * 2)) < 1e-6;
    const tk = mk("line", { x1: rtX(v), x2: rtX(v), y1: 306, y2: major ? 312 : 309, stroke: "#777" }, g);
    
    
  });
  eicTicksX.forEach((v, i) => {
    const l = txt(g, eicTickLabelsX[i], rtX(v), 327, { anchor: "middle" });
    
    
  });
  range(0, 115, 5).forEach(v => {
    const major = v % 20 === 0;
    const tk = mk("line", { x1: major ? 497 : 500, x2: 503, y1: y(v), y2: y(v), stroke: "#777" }, g);
    
    
  });
  eicTicksY.forEach(v => {
    const l = txt(g, String(v), 498, y(v) + 5, { anchor: "end" });
    
    
  });
  const yl = txt(g, "Relative abundance", 468, 282, { rot: true, italic: true, size: 13.5, len: 127 });
  
  
  const xl = txt(g, "Retention time [min]", 731, 346, { italic: true, size: 13.5, len: 132 });
  
  
})();

/* ---------- MS1 chart ---------- */
(function drawMs1() {
  const g = group(root);
  
  
  const x = v => 402 - v * 1.3;
  const y = v => 875 - v * 0.417;
  const bg = mk("rect", { x: 247, y: 431, width: 155, height: 457, fill: "#f5f5f5", stroke: "#e2e2e2" }, g);
  
  
  ms1Mz.forEach((m, i) => {
    const bar = mk("line", { x1: x(0), x2: x(ms1Int[i]), y1: y(m), y2: y(m), stroke: "#0000f0", "stroke-width": m === 303.05 ? 2.6 : 2 }, g);
    
    
  });
  const ax = mk("path", { d: "M247 431V888H402M402 431V888", stroke: "#777", fill: "none" }, g);
  
  
  range(0, 110, 10).forEach(v => {
    const major = v % 40 === 0;
    const tk = mk("line", { x1: x(v), x2: x(v), y1: 888, y2: major ? 894 : 891, stroke: "#777" }, g);
    
    
  });
  ms1TicksX.forEach(v => {
    const l = txt(g, String(v), x(v), 910, { anchor: "middle" });
    
    
  });
  range(0, 1050, 50).forEach(v => {
    const major = v % 200 === 0;
    const tk = mk("line", { x1: 402, x2: major ? 408 : 405, y1: y(v), y2: y(v), stroke: "#777" }, g);
    
    
  });
  ms1TicksY.forEach(v => {
    const l = txt(g, String(v), 423, y(v), { anchor: "middle", rot: true });
    
    
  });
  ms1PeakLabels.forEach((s, i) => {
    const l = txt(g, s, x(ms1PeakLabelInt[i]) - (i === 0 ? 6 : 8), y(ms1PeakLabelMz[i]), { anchor: "middle", rot: true, fill: "#3030f0", size: 15.5, len: 68 });
    
    
  });
  const t1 = txt(g, "MS1 spectra Max intensity: 618313", 217, 888, { rot: true, size: 16, len: 261 });
  
  
  const t2 = txt(g, "splash10-0udi-0119000000-87225ad5d68d5354e953", 240, 888, { rot: true, size: 16, len: 397 });
  
  
  const xl = txt(g, "Relative abundance", 249, 933, { italic: true, size: 13.5, len: 127 });
  
  
})();

/* ---------- Scatter chart ---------- */
(function drawScatter() {
  const g = group(root);
  
  
  const y = v => 875 - v * 0.417;
  const bg = mk("rect", { x: 503, y: 431, width: 587, height: 457, fill: "#f5f5f5", stroke: "#e2e2e2" }, g);
  
  
  const spots = group(g);
  spots.setAttribute("clip-path", "url(#clipScatter)");
  
  
  const series = [
    [blueRt, blueMz, "#1e90f8"],
    [cyanRt, cyanMz, "#3fb0e0"],
    [tealRt, tealMz, "#62d8b4"],
    [greenRt, greenMz, "#7cf27c"],
    [oliveRt, oliveMz, "#c4bc3c"],
    [limeRt, limeMz, "#b4ea74"],
    [orangeRt, orangeMz, "#f09a1c"]
  ];
  /* interleave the colour classes evenly so no class ends up painted on top */
  const order = [];
  series.forEach((s, k) => {
    const n = Math.min(s[0].length, s[1].length);
    for (let i = 0; i < n; i++) order.push([(i + 0.5) / n, k, i]);
  });
  order.sort((a, b) => a[0] - b[0] || a[1] - b[1]);
  order.forEach(o => {
    const s = series[o[1]];
    const c = mk("circle", { cx: rtX(s[0][o[2]]), cy: y(s[1][o[2]]), r: 7.6, fill: s[2], "fill-opacity": 0.74 }, spots);
    
    
  });
  const ch = mk("path", { d: "M" + rtX(focusRt[0]) + " 432V888M504 " + y(focusMz[0]) + "H1090", stroke: "#f01818", "stroke-width": 1.3, fill: "none" }, g);
  
  
  const fx = rtX(focusRt[0]);
  const fy = y(focusMz[0]);
  const ry = y(relatedMz[0]);
  const lk = mk("polyline", { points: fx + "," + fy + " " + (fx + 37) + "," + (fy + 11) + " " + (fx + 37) + "," + (ry - 11) + " " + fx + "," + ry, fill: "none", stroke: "#0a7a14", "stroke-width": 1.4 }, g);
  
  
  [fy, ry].forEach(v => {
    const c = mk("circle", { cx: fx, cy: v, r: 7.5, fill: "none", stroke: "#0a7a14", "stroke-width": 1.6 }, g);
    
    
  });
  [["M + 0", fx + 13, fy + 17, 36], ["[M+H]+", 787, fy + 31, 49], ["Chromatogram similar", 854, ry - 3, 144]].forEach(a => {
    const l = txt(g, a[0], a[1], a[2], { fill: "#7a5a80", size: 14.5, len: a[3], opacity: 0.8 });
    
    
  });
  const ax = mk("path", { d: "M503 431V888H1090", stroke: "#777", fill: "none" }, g);
  
  
  range(0.125, 3.625, 0.125).forEach(v => {
    const major = Math.abs(v * 2 - Math.round(v * 2)) < 1e-6;
    const tk = mk("line", { x1: rtX(v), x2: rtX(v), y1: 888, y2: major ? 894 : 891, stroke: "#777" }, g);
    
    
  });
  scatterTicksX.forEach((v, i) => {
    const l = txt(g, scatterTickLabelsX[i], rtX(v), 910, { anchor: "middle" });
    
    
  });
  range(0, 1050, 50).forEach(v => {
    const major = v % 200 === 0;
    const tk = mk("line", { x1: major ? 497 : 500, x2: 503, y1: y(v), y2: y(v), stroke: "#777" }, g);
    
    
  });
  scatterTicksY.forEach(v => {
    const l = txt(g, String(v), 492, y(v), { anchor: "middle", rot: true });
    
    
  });
  const tx = [505, 836, 947, 1036];
  const tw = [322, 101, 80, 92];
  scatterTitleParts.forEach((s, i) => {
    const t = txt(g, s, tx[i], 427, { size: 16, clip: "clipViewer", len: tw[i] });
    
    
  });
  const yl = txt(g, "m/z", 466, 673, { rot: true, italic: true, size: 13.5, len: 24 });
  
  
  const xl = txt(g, "Retention time [min]", 731, 929, { italic: true, size: 13.5, len: 132 });
  
  
})();

/* ---------- MS2 chart ---------- */
(function drawMs2() {
  const g = group(root);
  
  
  const x = v => 1171.7 + (v - 50) * 1.357;
  const y = v => 685 - v * 1.785;
  const bg = mk("rect", { x: 1165, y: 482, width: 382, height: 406, fill: "#f5f5f5", stroke: "#e2e2e2" }, g);
  
  
  const zero = mk("line", { x1: 1165, x2: 1547, y1: y(0), y2: y(0), stroke: "#909090", "stroke-width": 1.4 }, g);
  
  
  expMz.forEach((m, i) => {
    const bar = mk("line", { x1: x(m), x2: x(m), y1: y(0), y2: y(expInt[i]), stroke: "#0000f0", "stroke-width": 1.6 }, g);
    
    
  });
  refMz.forEach((m, i) => {
    const bar = mk("line", { x1: x(m), x2: x(m), y1: y(0), y2: y(-refInt[i]), stroke: "#f02020", "stroke-width": 1.3 }, g);
    
    
  });
  const ax = mk("path", { d: "M1165 482V888H1547", stroke: "#777", fill: "none" }, g);
  
  
  range(50, 325, 12.5).forEach(v => {
    const major = v % 50 === 0;
    const tk = mk("line", { x1: x(v), x2: x(v), y1: 888, y2: major ? 894 : 891, stroke: "#777" }, g);
    
    
  });
  ms2TicksX.forEach(v => {
    const l = txt(g, String(v), x(v), 910, { anchor: "middle" });
    
    
  });
  range(-112.5, 112.5, 12.5).forEach(v => {
    const major = v % 50 === 0;
    const tk = mk("line", { x1: major ? 1159 : 1162, x2: 1165, y1: y(v), y2: y(v), stroke: "#777" }, g);
    
    
  });
  ms2TicksY.forEach((v, i) => {
    const l = txt(g, ms2TickLabelsY[i], 1157, y(v) + 5, { anchor: "end" });
    
    
  });
  expLabels.forEach((s, i) => {
    const l = txt(g, s, x(expLabelMz[i]) + (i === 1 ? 3 : 0), y(expLabelInt[i]) - (i === 1 ? 6 : 7), { anchor: "middle", fill: "#2020f0", size: 15.5, len: 70, clip: "clipMs2" });
    
    
  });
  refLabels.forEach((s, i) => {
    const l = txt(g, s, x(refLabelMz[i]) + (i === 2 ? 3 : 0), y(-refLabelInt[i]) + (i === 2 ? 18 : 19), { anchor: "middle", fill: "#f02020", size: 15.5, len: 70, clip: "clipMs2" });
    
    
  });
  const t = txt(g, "MS2 spectra Precursor: 303.04974", 1166, 476, { size: 16, len: 258 });
  
  
  const me = txt(g, "Measurement", 1442, 476, { size: 16, italic: true, len: 105 });
  
  
  const re = txt(g, "Reference", 1473, 935, { size: 16, italic: true, len: 74 });
  
  
  const yl = txt(g, "Relative abundance", 1134, 748, { rot: true, italic: true, size: 13.5, len: 127 });
  
  
  const xl = txt(g, "m/z", 1344, 929, { italic: true, size: 13.5, len: 25 });
  
  
})();

/* ---------- annotation overlays ---------- */
(function drawOverlays() {
  const g = group(root);
  
  
  const a1 = txt(g, "EIC: extracted ion chromatogram", 534, 169, { size: 34, fill: "#f00000", len: 499 });
  
  
  const a2 = txt(g, "Meta data", 1361, 168, { size: 34, fill: "#f00000", len: 154 });
  
  
  const a3 = txt(g, "MS1 spectrum", 217, 425, { size: 34, fill: "#f00000", len: 219 });
  
  
  const a4 = txt(g, "Experimental", 1211, 567, { size: 34, fill: "#0070c0", len: 199 });
  
  
  const a5 = txt(g, "MS/MS spectrum", 1211, 612, { size: 34, fill: "#0070c0", len: 263 });
  
  
  const a6 = txt(g, "Reference", 1211, 790, { size: 34, fill: "#f00000", len: 151 });
  
  
  const a7 = txt(g, "MS/MS spectrum", 1211, 834, { size: 34, fill: "#f00000", len: 263 });
  
  
})();

/* ---------- fit HTML labels to their measured widths ---------- */
document.querySelectorAll("[data-w]").forEach(function (el) {
  const w = el.offsetWidth;
  if (w > 0) el.style.transform = "scaleX(" + (parseFloat(el.getAttribute("data-w")) / w) + ")";
});
</script>
</body>
</html>
